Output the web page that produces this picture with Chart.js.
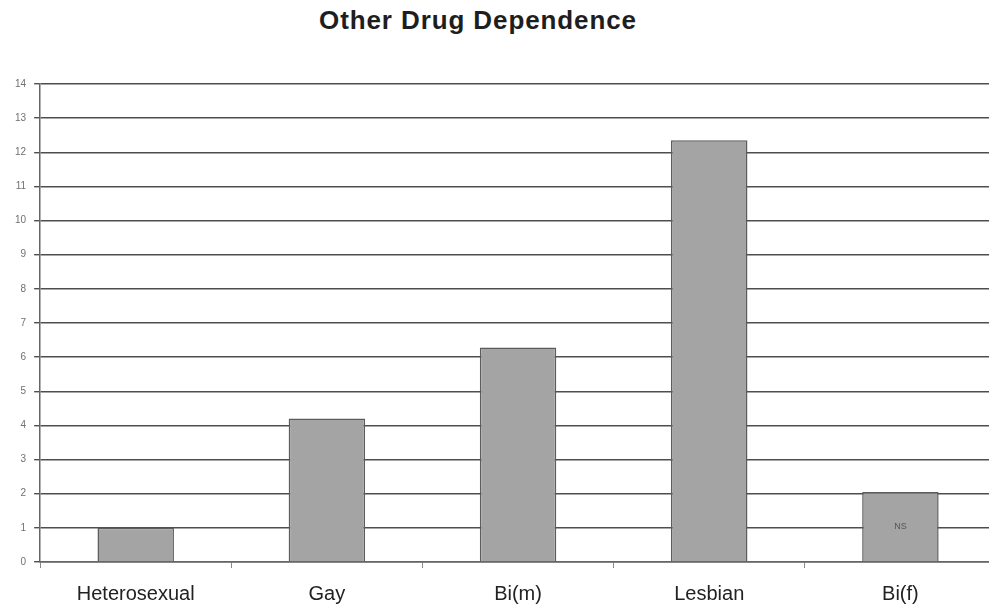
<!DOCTYPE html>
<html>
<head>
<meta charset="utf-8">
<script src="https://cdn.jsdelivr.net/npm/chart.js@4/dist/chart.umd.min.js"></script>
<style>
  html, body { margin: 0; padding: 0; background: #ffffff; overflow: hidden; }
  #wrap { position: relative; width: 989px; height: 609px; overflow: hidden; }
  #title {
    position: absolute; left: 0; top: 5px; width: 956px; text-align: center;
    font-family: "Liberation Sans", Arial, sans-serif; font-weight: bold;
    font-size: 26px; letter-spacing: 0.9px; color: #1e1e1e;
  }
  canvas { position: absolute; left: 0; top: 0; }
</style>
</head>
<body>
<div id="wrap">
  <div id="title">Other Drug Dependence</div>
  <canvas id="c" width="996" height="624"></canvas>
</div>
<script>
// Odds of other drug dependence by group
const categories = ["Heterosexual", "Gay", "Bi(m)", "Lesbian", "Bi(f)"];
const values = [1.0, 4.2, 6.28, 12.35, 2.05];
const barNotes = ["", "", "", "", "NS"];
const yTicks = [0, 1, 2, 3, 4, 5, 6, 7, 8, 9, 10, 11, 12, 13, 14];

// Writes the note text in the middle of its bar
const notePlugin = {
  id: "barNotes",
  afterDatasetsDraw(chart) {
    const ctx = chart.ctx;
    const meta = chart.getDatasetMeta(0);
    ctx.save();
    ctx.font = "9px 'Liberation Sans', Arial, sans-serif";
    ctx.fillStyle = "#555555";
    ctx.textAlign = "center";
    ctx.textBaseline = "middle";
    meta.data.forEach((bar, i) => {
      if (!barNotes[i]) return;
      const mid = (bar.y + bar.base) / 2;
      ctx.fillText(barNotes[i], bar.x, mid);
    });
    ctx.restore();
  }
};

new Chart(document.getElementById("c"), {
  type: "bar",
  data: {
    labels: categories,
    datasets: [{
      data: values,
      backgroundColor: "#a4a4a4",
      borderColor: "#5c5c5c",
      borderWidth: 1.5,
      categoryPercentage: 1.0,
      barPercentage: 0.4
    }]
  },
  options: {
    responsive: false,
    animation: false,
    layout: { padding: { top: 84, right: 0, bottom: 4, left: 7 } },
    plugins: {
      legend: { display: false },
      tooltip: { enabled: false }
    },
    scales: {
      y: {
        min: 0,
        max: 14,
        afterBuildTicks(axis) { axis.ticks = yTicks.map(v => ({ value: v })); },
        border: { display: true, color: "#666666", width: 1.5 },
        grid: {
          color: "#4e4e4e",
          lineWidth: 1.4,
          drawTicks: true,
          tickLength: 6
        },
        ticks: {
          color: "#707070",
          padding: 8,
          font: { family: "'Liberation Sans', Arial, sans-serif", size: 10 }
        }
      },
      x: {
        border: { display: true, color: "#666666", width: 1.5 },
        grid: {
          offset: true,
          drawOnChartArea: false,
          drawTicks: true,
          tickLength: 6,
          color: "#888888"
        },
        ticks: {
          color: "#222222",
          padding: 14,
          font: { family: "'Liberation Sans', Arial, sans-serif", size: 20 }
        }
      }
    }
  },
  plugins: [notePlugin]
});
</script>
</body>
</html>
